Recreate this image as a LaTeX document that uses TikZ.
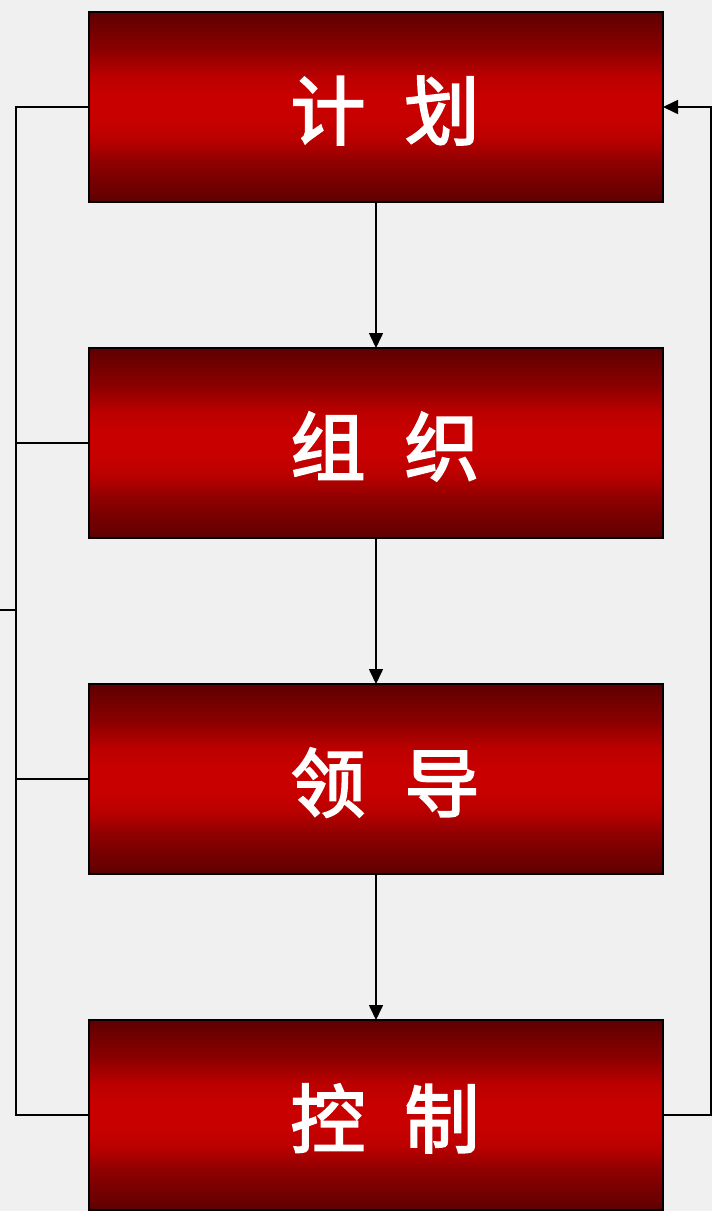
\documentclass[tikz,border=0pt]{standalone}
\usepackage{fontspec}
\newfontfamily\cjk{Noto Sans CJK SC}[FakeBold=2.5]
\usetikzlibrary{arrows.meta,positioning,calc}
\definecolor{bgc}{HTML}{F0F0F0}
\definecolor{darkr}{HTML}{5E0000}
\definecolor{midr}{HTML}{8C0000}
\definecolor{nearr}{HTML}{BC0000}
\definecolor{brightr}{HTML}{C80000}
\pgfdeclareverticalshading{redbar}{100bp}{color(0bp)=(darkr); color(25bp)=(darkr); color(35bp)=(midr); color(42bp)=(nearr); color(47bp)=(brightr); color(53bp)=(brightr); color(58bp)=(nearr); color(65bp)=(midr); color(75bp)=(darkr); color(100bp)=(darkr)}
\tikzset{
  stagebox/.style={draw=black, line width=2pt, minimum width=574pt, minimum height=190pt,
    inner sep=0pt, outer sep=0pt, shading=redbar, text height=64pt, text depth=0pt,
    text=white, font=\cjk\fontsize{75}{75}\selectfont},
  conn/.style={draw=black, line width=1.6pt},
  arr/.style={conn, -{Triangle[length=15pt,width=14pt]}}
}
\newcommand{\twochars}[2]{\hspace{18pt}#1\hspace{39pt}#2}
\begin{document}
\begin{tikzpicture}[x=1pt,y=-1pt]
\fill[bgc] (0,0) rectangle (712,1211);
\useasboundingbox (0,0) rectangle (712,1211);
\node[stagebox] (b1) at (376,107) {\twochars{计}{划}};
\node[stagebox] (b2) at (376,443) {\twochars{组}{织}};
\node[stagebox] (b3) at (376,779) {\twochars{领}{导}};
\node[stagebox] (b4) at (376,1115) {\twochars{控}{制}};
\coordinate (busTop) at (16,107);
\coordinate (busBot) at (16,1115);
\coordinate (stub) at (0,610);
\coordinate (rTop) at (711,107);
\coordinate (rBot) at (711,1115);
\draw[arr] (b1.south) -- (b2.north);
\draw[arr] (b2.south) -- (b3.north);
\draw[arr] (b3.south) -- (b4.north);
\draw[conn] (b1.west) -- (busTop) -- (busBot) -- (b4.west);
\draw[conn] (b2.west) -- (b2.west -| busTop);
\draw[conn] (b3.west) -- (b3.west -| busTop);
\draw[conn] (stub) -- (stub -| busTop);
\draw[arr] (b4.east) -- (rBot) -- (rTop) -- (b1.east);
\end{tikzpicture}
\end{document}
